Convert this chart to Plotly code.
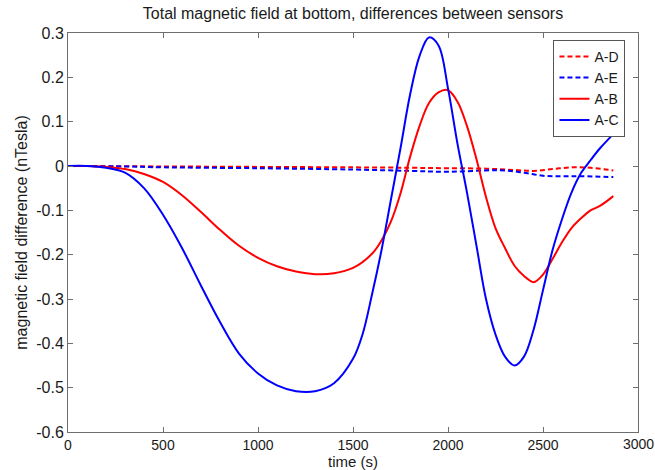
import plotly.graph_objects as go

# ---- data ----
t_ac = [0, 100, 200, 300, 400, 500, 600, 700, 800, 900, 1000, 1100, 1200, 1300, 1400,
        1500, 1550, 1600, 1650, 1700, 1750, 1800, 1850, 1900, 1950, 2000, 2050,
        2100, 2150, 2200, 2250, 2300, 2350, 2400, 2450, 2500, 2550, 2600, 2650, 2700, 2750,
        2800, 2870]
v_ac = [0, 0, -0.004, -0.015, -0.05, -0.11, -0.185, -0.27, -0.352, -0.423, -0.468, -0.495,
        -0.508, -0.508, -0.49, -0.435, -0.38, -0.29, -0.19, -0.075, 0.04,
        0.16, 0.248, 0.29, 0.272, 0.175, 0.05, -0.06, -0.18, -0.30, -0.38, -0.43,
        -0.45, -0.43, -0.37, -0.28, -0.19, -0.12, -0.06, -0.016, 0.013, 0.04, 0.072]

t_ab = [0, 100, 200, 300, 400, 500, 600, 700, 800, 900, 1000, 1100, 1200, 1300, 1400, 1500,
        1600, 1650, 1700, 1750, 1800, 1850, 1900, 1950, 2000, 2050, 2100, 2150, 2200, 2250,
        2300, 2350, 2400, 2450, 2500, 2550, 2600, 2650, 2700, 2750, 2800, 2870]
v_ab = [0, 0, -0.002, -0.007, -0.018, -0.036, -0.066, -0.104, -0.144, -0.18, -0.207, -0.226,
        -0.238, -0.244, -0.242, -0.23, -0.198, -0.168, -0.125, -0.062, 0.02, 0.09, 0.142,
        0.166, 0.171, 0.145, 0.09, 0.015, -0.07, -0.14, -0.185, -0.225, -0.248, -0.262,
        -0.245, -0.21, -0.172, -0.14, -0.118, -0.10, -0.09, -0.068]

t_ad = [0, 500, 1000, 1500, 1800, 2000, 2200, 2350, 2450, 2550, 2650, 2750, 2870]
v_ad = [0, -0.001, -0.002, -0.003, -0.004, -0.005, -0.006, -0.009, -0.011, -0.007,
        -0.003, -0.004, -0.01]

t_ae = [0, 300, 500, 1000, 1500, 1800, 2000, 2200, 2300, 2400, 2500, 2600, 2700, 2870]
v_ae = [0, -0.001, -0.003, -0.005, -0.008, -0.011, -0.013, -0.01, -0.01, -0.015, -0.022,
        -0.023, -0.023, -0.025]

y_ticks = [0.3, 0.2, 0.1, 0, -0.1, -0.2, -0.3, -0.4, -0.5, -0.6]
y_ticktext = ["0.3", "0.2", "0.1", "0", "-0.1", "-0.2", "-0.3", "-0.4", "-0.5", "-0.6"]
x_ticks = [0, 500, 1000, 1500, 2000, 2500, 3000]

FONT = "Liberation Sans, Arial, sans-serif"
TXT = "#1a1a1a"

# the last x label sits on the figure edge, where plotly drops it; draw it as an annotation
x_ticktext = [str(v) for v in x_ticks[:-1]] + [""]

fig = go.Figure()
fig.add_trace(go.Scatter(x=t_ad, y=v_ad, name="A-D", mode="lines", line_shape="spline",
                         line=dict(color="#ff0000", width=2, dash="5px,3px")))
fig.add_trace(go.Scatter(x=t_ae, y=v_ae, name="A-E", mode="lines", line_shape="spline",
                         line=dict(color="#0000ff", width=2, dash="5px,3px")))
fig.add_trace(go.Scatter(x=t_ab, y=v_ab, name="A-B", mode="lines", line_shape="spline",
                         line=dict(color="#ff0000", width=2)))
fig.add_trace(go.Scatter(x=t_ac, y=v_ac, name="A-C", mode="lines", line_shape="spline",
                         line=dict(color="#0000ff", width=2)))

axis_common = dict(showgrid=False, zeroline=False, showline=True, mirror="ticks",
                   linecolor="#6e6e6e", linewidth=1, ticks="inside", ticklen=5,
                   tickcolor="#6e6e6e", automargin=False)

fig.update_layout(
    width=655, height=470,
    margin=dict(l=68, r=17, t=33, b=38),
    paper_bgcolor="white", plot_bgcolor="white",
    font=dict(family=FONT, size=16, color=TXT),
    title=dict(text="Total magnetic field at bottom, differences between sensors",
               x=0.5, xref="paper", xanchor="center", y=0.972, yanchor="middle",
               font=dict(family=FONT, size=16, color=TXT)),
    xaxis=dict(range=[0, 3000], tickvals=x_ticks, ticktext=x_ticktext,
               tickfont=dict(family=FONT, size=14, color=TXT),
               title=dict(text="time (s)", standoff=2, font=dict(family=FONT, size=15)),
               **axis_common),
    yaxis=dict(range=[-0.6, 0.3], tickvals=y_ticks, ticktext=y_ticktext,
               tickfont=dict(family=FONT, size=16, color=TXT),
               title=dict(text="magnetic field difference (nTesla)", standoff=4,
                          font=dict(family=FONT, size=16)),
               **axis_common),
    legend=dict(x=0.978, y=0.983, xanchor="right", yanchor="top",
                bgcolor="white", bordercolor="#555", borderwidth=1,
                font=dict(family=FONT, size=14, color=TXT),
                tracegroupgap=0, itemwidth=30),
    showlegend=True,
)

fig.add_annotation(x=x_ticks[-1], xref="x", y=0, yref="paper", text=str(x_ticks[-1]),
                   showarrow=False, xanchor="center", yanchor="top", yshift=-2,
                   font=dict(family=FONT, size=14, color=TXT))

fig.write_html("out.html")
